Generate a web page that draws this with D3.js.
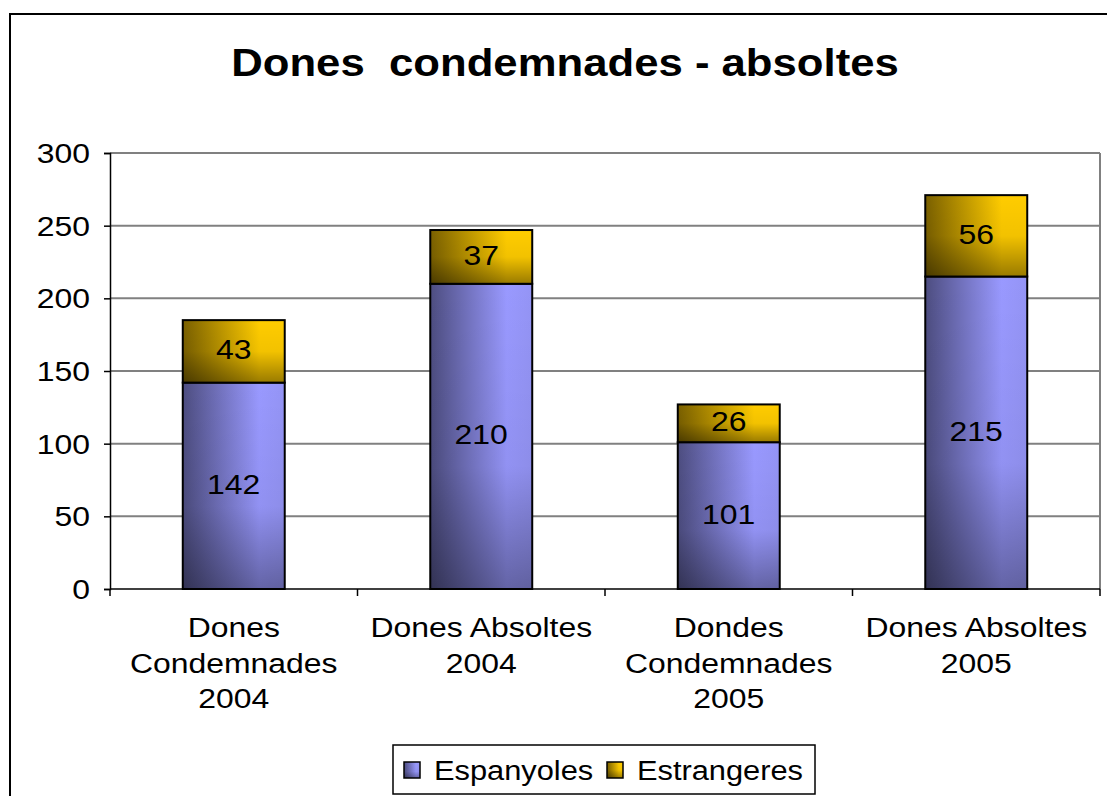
<!DOCTYPE html>
<html><head><meta charset="utf-8">
<script src="https://cdn.jsdelivr.net/npm/d3@7"></script>
<style>body{margin:0;background:#fff}svg{display:block;font-family:"Liberation Sans",Arial,sans-serif}</style>
</head><body>
<svg id="c" width="1107" height="796"></svg>
<script>
const categories = [["Dones","Condemnades","2004"],["Dones Absoltes","2004"],["Dondes","Condemnades","2005"],["Dones Absoltes","2005"]];
const espanyoles = [142, 210, 101, 215];
const estrangeres = [43, 37, 26, 56];
const yTicks = [0, 50, 100, 150, 200, 250, 300];
const seriesNames = ["Espanyoles", "Estrangeres"];
const title = "Dones  condemnades - absoltes";

const svg = d3.select("#c");
const W = 1107, H = 796;
const SX = 1.14, FS = 28;
const m = {l: 110, r: 1100, t: 153, b: 589};
const x = d3.scaleBand().domain(d3.range(categories.length)).range([m.l, m.r]).paddingInner(0.588).paddingOuter(0.294);
const y = d3.scaleLinear().domain([0, 300]).range([m.b, m.t]);

function stext(g, tx, ty, str, opts = {}) {
  const t = g.append("text").attr("transform", `translate(${tx},${ty}) scale(${opts.sx || SX},1)`)
    .attr("text-anchor", opts.anchor || "middle").attr("font-size", opts.fs || FS).attr("fill", "#000")
    .style("white-space", "pre").text(str);
  if (opts.bold) t.attr("font-weight", "bold");
  return t;
}

const defs = svg.append("defs");
function grad(id, stops, x1, y1, x2, y2) {
  const g = defs.append("linearGradient").attr("id", id).attr("x1", x1).attr("y1", y1).attr("x2", x2).attr("y2", y2);
  stops.forEach(s => g.append("stop").attr("offset", s[0]).attr("stop-color", s[1]).attr("stop-opacity", s[2] == null ? 1 : s[2]));
}
grad("gBlue", [[0, "#4d4d80"], [0.75, "#9999ff"], [1, "#9494f5"]], 0, 0, 1, 0);
grad("gShade", [[0, "#000", 0], [0.6, "#000", 0.05], [1, "#000", 0.35]], 0, 0, 0, 1);
grad("gGold", [[0, "#7a6000"], [0.75, "#ffcc00"], [1, "#ffcc00"]], 0, 0, 1, 0);
grad("gGoldShade", [[0, "#000", 0], [0.5, "#000", 0.05], [1, "#000", 0.4]], 0, 0, 0, 1);

// outer frame
svg.append("rect").attr("x", 10).attr("y", 14).attr("width", W).attr("height", H).attr("fill", "none").attr("stroke", "#000").attr("stroke-width", 2);

// title
stext(svg, 565, 76, title, {fs: 38, bold: true, sx: 1.15});

// gridlines
svg.append("g").selectAll("line").data(yTicks.filter(d => d > 0)).join("line")
  .attr("x1", m.l).attr("x2", m.r).attr("y1", d => y(d)).attr("y2", d => y(d)).attr("stroke", "#808080").attr("stroke-width", 2);
svg.append("line").attr("x1", m.r).attr("x2", m.r).attr("y1", m.t).attr("y2", m.b).attr("stroke", "#808080").attr("stroke-width", 2);

// y axis
const ya = svg.append("g").attr("transform", `translate(${m.l},0)`).call(d3.axisLeft(y).tickValues(yTicks).tickSize(6).tickFormat(""));
ya.select(".domain").attr("stroke", "#000").attr("stroke-width", 1.5);
ya.selectAll(".tick line").attr("stroke", "#000").attr("stroke-width", 1.5);
yTicks.forEach(v => stext(svg, 90, y(v) + 10, String(v), {anchor: "end"}));

// x axis
const xa = svg.append("g").attr("transform", `translate(0,${m.b})`);
xa.append("line").attr("x1", m.l).attr("x2", m.r).attr("stroke", "#000").attr("stroke-width", 1.5);
const bounds = d3.range(categories.length + 1).map(i => m.l + i * x.step());
xa.selectAll(".tk").data(bounds).join("line").attr("class", "tk").attr("x1", d => d).attr("x2", d => d).attr("y1", 0).attr("y2", 7).attr("stroke", "#000").attr("stroke-width", 1.5);
categories.forEach((lines, i) => {
  lines.forEach((ln, j) => stext(xa, x(i) + x.bandwidth() / 2, 48 + j * 35.5, ln));
});

// bars
const bars = svg.append("g");
categories.forEach((c, i) => {
  const bx = x(i), bw = x.bandwidth();
  const segs = [
    {v0: 0, v1: espanyoles[i], fill: "url(#gBlue)", shade: "url(#gShade)", label: espanyoles[i]},
    {v0: espanyoles[i], v1: espanyoles[i] + estrangeres[i], fill: "url(#gGold)", shade: "url(#gGoldShade)", label: estrangeres[i]}
  ];
  segs.forEach(s => {
    const yt = y(s.v1), h = y(s.v0) - y(s.v1);
    bars.append("rect").attr("x", bx).attr("y", yt).attr("width", bw).attr("height", h).attr("fill", s.fill);
    bars.append("rect").attr("x", bx).attr("y", yt).attr("width", bw).attr("height", h).attr("fill", s.shade);
    bars.append("rect").attr("x", bx).attr("y", yt).attr("width", bw).attr("height", h).attr("fill", "none").attr("stroke", "#000").attr("stroke-width", 2);
    stext(bars, bx + bw / 2, yt + h / 2 + 8, String(s.label));
  });
});

// legend
const lg = svg.append("g");
lg.append("rect").attr("x", 393).attr("y", 745).attr("width", 422).attr("height", 49).attr("fill", "#fff").attr("stroke", "#000").attr("stroke-width", 1.5);
const legFills = [["url(#gBlue)", "url(#gShade)"], ["url(#gGold)", "url(#gGoldShade)"]];
const legX = [404, 607];
seriesNames.forEach((n, i) => {
  lg.append("rect").attr("x", legX[i]).attr("y", 762).attr("width", 16).attr("height", 16).attr("fill", legFills[i][0]);
  lg.append("rect").attr("x", legX[i]).attr("y", 762).attr("width", 16).attr("height", 16).attr("fill", legFills[i][1]).attr("stroke", "#000").attr("stroke-width", 1.5);
  stext(lg, legX[i] + 30, 780, n, {anchor: "start", sx: 1.1});
});
</script>
</body></html>
